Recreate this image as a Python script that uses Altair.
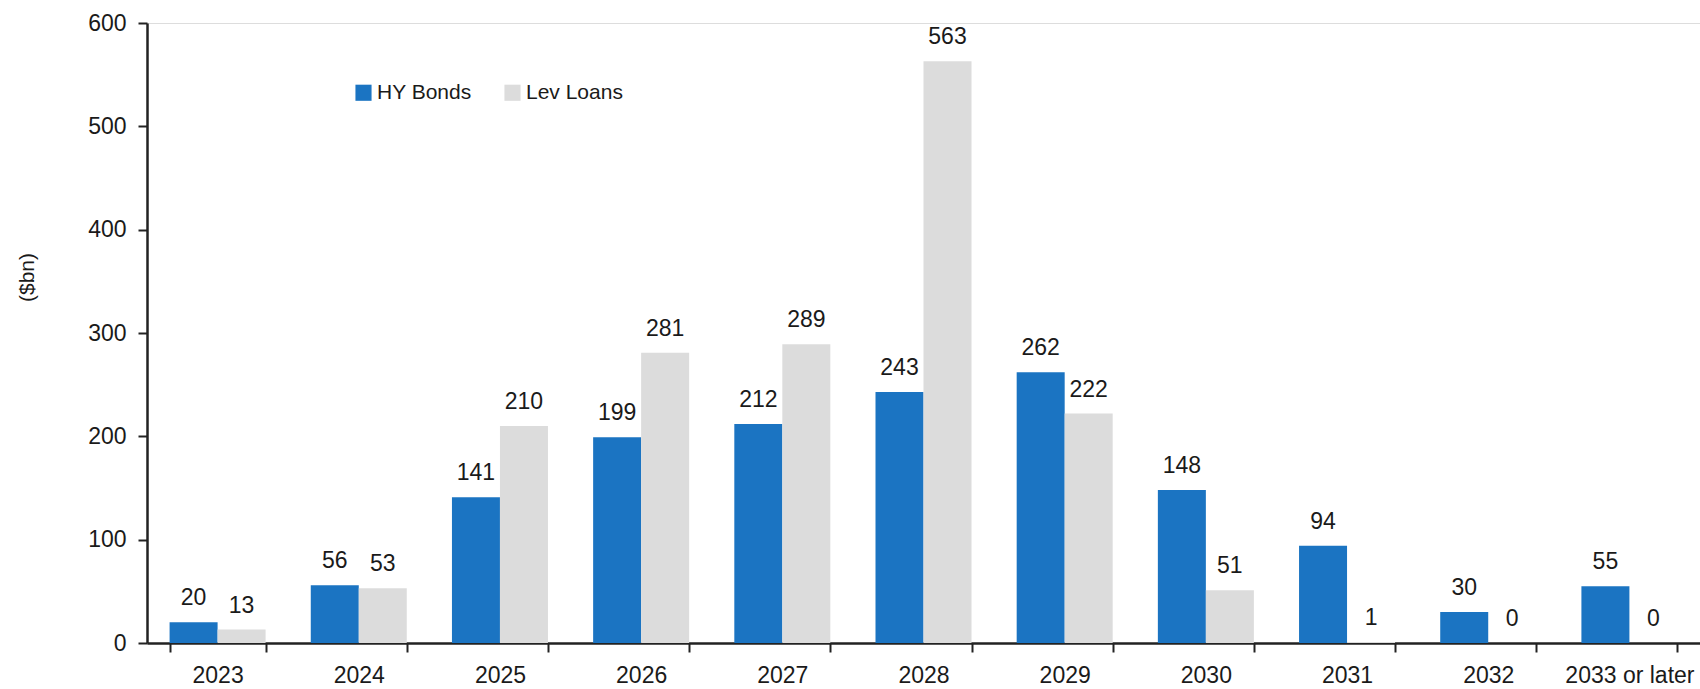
import altair as alt
import pandas as pd

years = ["2023", "2024", "2025", "2026", "2027", "2028", "2029", "2030", "2031", "2032", "2033 or later"]
hy_bonds = [20, 56, 141, 199, 212, 243, 262, 148, 94, 30, 55]
lev_loans = [13, 53, 210, 281, 289, 563, 222, 51, 1, 0, 0]
series = ["HY Bonds", "Lev Loans"]
colors = ["#1b74c2", "#dcdcdc"]

rows = []
for i, y in enumerate(years):
    rows.append({"year": y, "series": series[0], "value": hy_bonds[i]})
    rows.append({"year": y, "series": series[1], "value": lev_loans[i]})
df = pd.DataFrame(rows)

FONT = "Liberation Sans"
TXT = "#1a1a1a"

x = alt.X("year:N", sort=years, title=None,
          scale=alt.Scale(paddingInner=0.32, paddingOuter=0.16),
          axis=alt.Axis(labelAngle=0, labelFontSize=23, labelFont=FONT, labelColor=TXT,
                        labelPadding=12, tickBand="extent", ticks=True, tickSize=9,
                        tickColor="#222", tickWidth=2, domainColor="#222", domainWidth=2.5,
                        grid=False))
y = alt.Y("value:Q", title="($bn)",
          scale=alt.Scale(domain=[0, 600], nice=False),
          axis=alt.Axis(values=[0, 100, 200, 300, 400, 500, 600], labelFontSize=23,
                        labelFont=FONT, labelColor=TXT, labelPadding=12,
                        tickSize=9, tickColor="#222", tickWidth=2, domainColor="#222",
                        domainWidth=2.5, grid=False, titleFontSize=21, titleFont=FONT,
                        titleColor=TXT, titleFontWeight="normal", titleAngle=270,
                        titleX=-120, titleY=254, titleAlign="center", titleBaseline="middle"))
xo = alt.XOffset("series:N", sort=series)
color = alt.Color("series:N", sort=series, title=None,
                  scale=alt.Scale(domain=series, range=colors),
                  legend=alt.Legend(orient="none", legendX=206, legendY=59, direction="horizontal",
                                    symbolType="square", symbolSize=260, symbolStrokeWidth=0,
                                    labelFontSize=21, labelFont=FONT, labelColor=TXT,
                                    columnPadding=30, labelOffset=3))

bars = alt.Chart(df).mark_bar().encode(x=x, xOffset=xo, y=y, color=color)
labels = alt.Chart(df).mark_text(baseline="bottom", dy=-12, fontSize=23, font=FONT,
                                 color=TXT).encode(
    x=alt.X("year:N", sort=years), xOffset=xo, y="value:Q", text="value:Q")

chart = (bars + labels).properties(
    width=1553, height=620,
    autosize=alt.AutoSizeParams(type="none"),
    padding={"left": 147, "top": 23, "right": 0, "bottom": 46},
).configure_view(stroke=None).configure(background="white")

chart.save("out.html", embed_options={"renderer": "svg", "actions": False})
